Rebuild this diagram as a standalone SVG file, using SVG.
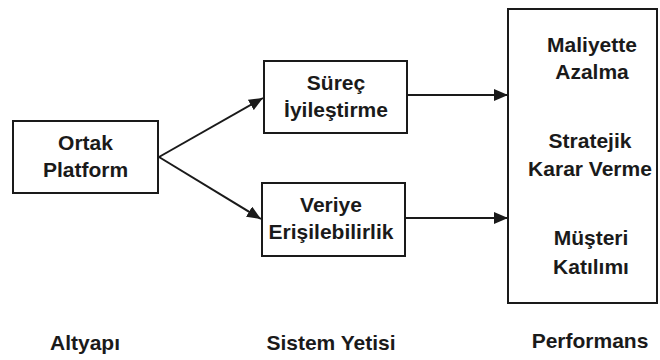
<svg xmlns="http://www.w3.org/2000/svg" width="660" height="360" viewBox="0 0 660 360">
<defs>
<style>
.box{fill:#fff;stroke:#1a1a1a;stroke-width:2}
.t{font-family:"Liberation Sans",Arial,sans-serif;font-weight:bold;font-size:21px;fill:#1a1a1a;text-anchor:middle}
.c{stroke:#1a1a1a;stroke-width:2;fill:none}
</style>
<marker id="ah" viewBox="0 0 14 12" refX="14" refY="6" markerWidth="14" markerHeight="12" markerUnits="userSpaceOnUse" orient="auto">
<path d="M0,0 L14,6 L0,12 Z" fill="#1a1a1a"/>
</marker>
</defs>
<rect width="660" height="360" fill="#fff"/>
<g id="connectors">
<line class="c" x1="159" y1="157" x2="263" y2="98" marker-end="url(#ah)"/>
<line class="c" x1="159" y1="157" x2="261" y2="219" marker-end="url(#ah)"/>
<line class="c" x1="407" y1="95" x2="508" y2="95" marker-end="url(#ah)"/>
<line class="c" x1="403" y1="218" x2="508" y2="218" marker-end="url(#ah)"/>
</g>
<g id="ortak">
<rect class="box" x="13" y="121" width="145" height="72"/>
<text class="t" x="85.5" y="150">Ortak</text>
<text class="t" x="85.5" y="177">Platform</text>
</g>
<g id="surec">
<rect class="box" x="264" y="61" width="143" height="72"/>
<text class="t" x="336" y="90">Süreç</text>
<text class="t" x="336" y="117">İyileştirme</text>
</g>
<g id="veriye">
<rect class="box" x="262" y="183" width="143" height="73"/>
<text class="t" x="331" y="212">Veriye</text>
<text class="t" x="331" y="239">Erişilebilirlik</text>
</g>
<g id="performans-box">
<rect class="box" x="508" y="9" width="149" height="294"/>
<text class="t" x="592" y="52">Maliyette</text>
<text class="t" x="592" y="79">Azalma</text>
<text class="t" x="590" y="148">Stratejik</text>
<text class="t" x="590" y="176">Karar Verme</text>
<text class="t" x="591" y="245">Müşteri</text>
<text class="t" x="591" y="274">Katılımı</text>
</g>
<g id="labels">
<text class="t" x="85" y="350">Altyapı</text>
<text class="t" x="331" y="350">Sistem Yetisi</text>
<text class="t" x="590" y="348">Performans</text>
</g>
</svg>
